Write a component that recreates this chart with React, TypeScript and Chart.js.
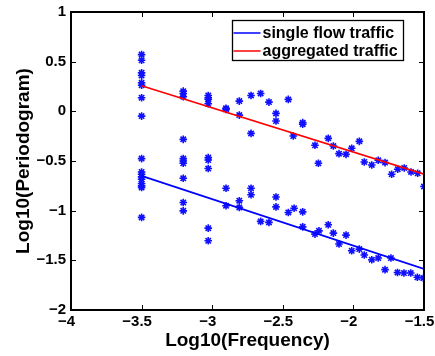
import React, { useEffect, useRef } from 'react';
import { Chart, registerables } from 'chart.js';

Chart.register(...registerables);

// ---- data ----
const aggX = [
  -3.5, -3.5, -3.5, -3.5, -3.5, -3.5, -3.5, -3.5,
  -3.205, -3.205, -3.205, -3.205,
  -3.028, -3.028, -3.028, -3.028,
  -2.902, -2.902, -2.808, -2.808, -2.725, -2.725, -2.657, -2.598,
  -2.548, -2.548, -2.461, -2.426, -2.359, -2.359, -2.272, -2.248,
  -2.178, -2.142, -2.102, -2.052, -2.012, -1.958, -1.923, -1.87,
  -1.824, -1.776, -1.729, -1.686, -1.64, -1.592, -1.545, -1.5,
];
const aggY = [
  0.571, 0.514, 0.388, 0.36, 0.287, 0.263, 0.137, -0.048,
  0.203, 0.18, 0.147, -0.282,
  0.16, 0.137, 0.12, 0.076,
  0.03, 0.02, 0.103, -0.038, 0.16, -0.222, 0.18, 0.093,
  -0.021, -0.098, 0.12, -0.249, -0.114, -0.13, -0.342, -0.523,
  -0.272, -0.349, -0.426, -0.433, -0.372, -0.302, -0.51, -0.54,
  -0.493, -0.516, -0.633, -0.583, -0.57, -0.61, -0.624, -0.757,
];
const singleX = [
  -3.5, -3.5, -3.5, -3.5, -3.5, -3.5, -3.5, -3.5, -3.5,
  -3.205, -3.205, -3.205, -3.205, -3.205, -3.205,
  -3.028, -3.028, -3.028, -3.028, -3.028,
  -2.902, -2.902, -2.808, -2.808, -2.725, -2.725, -2.657, -2.598,
  -2.548, -2.548, -2.461, -2.42, -2.359, -2.359, -2.272, -2.244,
  -2.178, -2.142, -2.102, -2.052, -2.012, -1.958, -1.923, -1.87,
  -1.824, -1.776, -1.734, -1.688, -1.642, -1.594, -1.547, -1.505,
];
const singleY = [
  -0.476, -0.61, -0.633, -0.66, -0.684, -0.727, -0.75, -0.767, -1.068,
  -0.476, -0.5, -0.523, -0.674, -0.918, -1.002,
  -0.466, -0.49, -0.576, -1.176, -1.303,
  -0.774, -0.95, -0.9, -0.967, -0.774, -0.84, -1.108, -1.118,
  -0.862, -0.962, -1.018, -0.975, -1.012, -1.163, -1.236, -1.203,
  -1.142, -1.226, -1.336, -1.246, -1.404, -1.387, -1.447, -1.494,
  -1.477, -1.594, -1.477, -1.622, -1.628, -1.628, -1.671, -1.678,
];
const fitX = [-3.5, -1.5];
const singleFitY = [-0.65, -1.587];
const aggFitY = [0.258, -0.633];

const xTicks = [-4, -3.5, -3, -2.5, -2, -1.5];
const xTickLabels = ['\u22124', '\u22123.5', '\u22123', '\u22122.5', '\u22122', '\u22121.5'];
const yTicks = [-2, -1.5, -1, -0.5, 0, 0.5, 1];
const yTickLabels = ['\u22122', '\u22121.5', '\u22121', '\u22120.5', '0', '0.5', '1'];

const legendLabels = ['single flow traffic', 'aggregated traffic'];
const legendColors = ['#0000ff', '#ff0000'];
const xTitle = 'Log10(Frequency)';
const yTitle = 'Log10(Periodogram)';

const FAMILY = '"Liberation Sans", Arial, Helvetica, sans-serif';

const labelFor = (ticks: number[], labels: string[], v: number) => {
  const i = ticks.findIndex((t) => Math.abs(t - v) < 1e-9);
  return i >= 0 ? labels[i] : '';
};

const framePlugin = {
  id: 'frame',
  afterDraw(chart: any) {
    const { ctx, chartArea: a, scales } = chart;
    const L = Math.round(a.left);
    const R = Math.round(a.right);
    const T = Math.round(a.top);
    const B = Math.round(a.bottom);
    ctx.save();
    ctx.fillStyle = '#000000';
    // box (filled rectangles for crisp edges)
    ctx.fillRect(L - 1, T - 1, R - L + 2, 2); // top
    ctx.fillRect(L - 1, T - 1, 2, B - T + 2); // left
    ctx.fillRect(R - 1, T - 1, 2, B - T + 2); // right
    ctx.fillRect(L - 1, B - 1, R - L + 2, 2); // bottom
    // inward tick marks on all four sides
    xTicks.forEach((v) => {
      const px = Math.round(scales.x.getPixelForValue(v));
      ctx.fillRect(px, B - 5, 1, 5);
      ctx.fillRect(px, T, 1, 5);
    });
    yTicks.forEach((v) => {
      const py = Math.round(scales.y.getPixelForValue(v));
      ctx.fillRect(L, py, 5, 1);
      ctx.fillRect(R - 5, py, 5, 1);
    });

    // legend
    ctx.font = `bold 16px ${FAMILY}`;
    const tw = Math.max(...legendLabels.map((t) => ctx.measureText(t).width));
    const w = Math.round(30 + tw + 6);
    const h = 40;
    const right = R - 21 + 0.5;
    const left = right - w;
    const top = T + 8 + 0.5;
    ctx.fillStyle = '#ffffff';
    ctx.fillRect(left, top, w, h);
    ctx.lineWidth = 1.3;
    ctx.strokeStyle = '#000000';
    ctx.strokeRect(left, top, w, h);
    ctx.textBaseline = 'middle';
    ctx.textAlign = 'left';
    legendLabels.forEach((t, i) => {
      const y = top + 12.5 + i * 18;
      ctx.strokeStyle = legendColors[i];
      ctx.lineWidth = 1.5;
      ctx.beginPath();
      ctx.moveTo(left + 1, y);
      ctx.lineTo(left + 28, y);
      ctx.stroke();
      ctx.fillStyle = '#000000';
      ctx.fillText(t, left + 30, y + 1);
    });
    ctx.restore();
  },
};

export default function App() {
  const ref = useRef<HTMLCanvasElement | null>(null);

  useEffect(() => {
    document.body.style.margin = '0';
    const canvas = ref.current;
    if (!canvas) return;
    const markerStyle = {
      showLine: false,
      pointStyle: 'star' as const,
      pointRadius: 3.8,
      pointBorderWidth: 1.6,
      pointBorderColor: '#1010ff',
      pointBackgroundColor: '#1010ff',
      borderColor: '#0000ff',
      order: 2,
    };
    const chart = new Chart(canvas, {
      type: 'scatter',
      data: {
        datasets: [
          { ...markerStyle, label: 'single points', data: singleX.map((x, i) => ({ x, y: singleY[i] })) },
          { ...markerStyle, label: 'aggregated points', data: aggX.map((x, i) => ({ x, y: aggY[i] })) },
          {
            label: legendLabels[0],
            data: fitX.map((x, i) => ({ x, y: singleFitY[i] })),
            showLine: true,
            borderColor: legendColors[0],
            borderWidth: 1.8,
            pointRadius: 0,
            order: 1,
          },
          {
            label: legendLabels[1],
            data: fitX.map((x, i) => ({ x, y: aggFitY[i] })),
            showLine: true,
            borderColor: legendColors[1],
            borderWidth: 1.6,
            pointRadius: 0,
            order: 1,
          },
        ],
      },
      options: {
        animation: false,
        responsive: false,
        devicePixelRatio: 1,
        layout: { padding: { top: 12, right: 11, left: 0, bottom: 0 } },
        plugins: { legend: { display: false }, tooltip: { enabled: false } },
        scales: {
          x: {
            type: 'linear',
            min: -4,
            max: -1.5,
            grid: { display: false, drawTicks: false },
            border: { display: false },
            afterBuildTicks: (s: any) => {
              s.ticks = xTicks.map((value) => ({ value }));
            },
            afterFit: (s: any) => {
              s.height = 46;
              s.paddingLeft = 0;
              s.paddingRight = 0;
            },
            ticks: {
              maxRotation: 0,
              autoSkip: false,
              padding: 3,
              labelOffset: -4.5,
              color: '#000',
              font: { family: FAMILY, size: 15, weight: 'bold' },
              callback: (v: any) => labelFor(xTicks, xTickLabels, Number(v)),
            },
            title: {
              display: true,
              text: xTitle,
              color: '#000',
              font: { family: FAMILY, size: 19, weight: 'bold' },
              padding: { top: 0, bottom: 4 },
            },
          },
          y: {
            type: 'linear',
            min: -2,
            max: 1,
            grid: { display: false, drawTicks: false },
            border: { display: false },
            afterBuildTicks: (s: any) => {
              s.ticks = yTicks.map((value) => ({ value }));
            },
            afterFit: (s: any) => {
              s.width = 71;
              s.paddingTop = 0;
              s.paddingBottom = 0;
            },
            ticks: {
              autoSkip: false,
              padding: 5,
              color: '#000',
              font: { family: FAMILY, size: 15, weight: 'bold' },
              callback: (v: any) => labelFor(yTicks, yTickLabels, Number(v)),
            },
            title: {
              display: true,
              text: yTitle,
              color: '#000',
              font: { family: FAMILY, size: 19, weight: 'bold' },
              padding: { top: 12, bottom: 0 },
            },
          },
        },
      },
      plugins: [framePlugin],
    } as any);
    return () => chart.destroy();
  }, []);

  return (
    <div style={{ width: 435, height: 356 }}>
      <canvas ref={ref} width={435} height={356} style={{ display: 'block' }} />
    </div>
  );
}
